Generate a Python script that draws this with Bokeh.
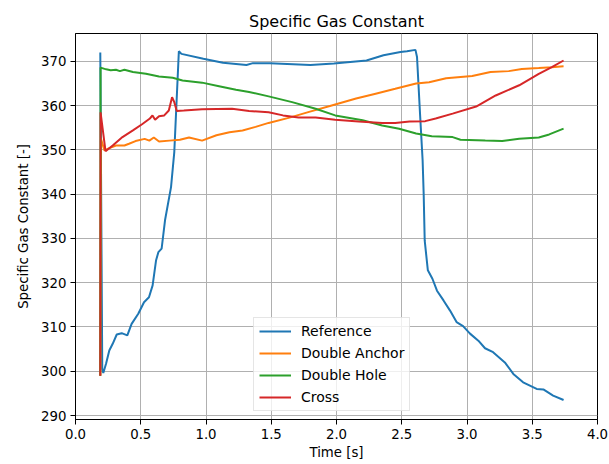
from bokeh.plotting import figure
from bokeh.models import Range1d, FixedTicker, NumeralTickFormatter
from bokeh.embed import file_html
from bokeh.resources import INLINE

# ---- data ----
ref_t = [0.19, 0.205, 0.213, 0.234, 0.259, 0.285, 0.316, 0.354, 0.397, 0.43, 0.481, 0.525,
         0.563, 0.591, 0.617, 0.635, 0.66, 0.686, 0.732, 0.757, 0.792, 0.812, 0.98, 1.13,
         1.31, 1.36, 1.49, 1.80, 1.98, 2.23, 2.36, 2.49, 2.54, 2.605, 2.617, 2.64, 2.66,
         2.668, 2.676, 2.70, 2.735, 2.77, 2.82, 2.87, 2.92, 2.97, 3.023, 3.087, 3.138, 3.2,
         3.29, 3.355, 3.43, 3.534, 3.585, 3.66, 3.74]
ref_r = [372.0, 300.5, 299.6, 301.7, 304.7, 306.2, 308.3, 308.6, 308.1, 310.7, 313.0, 315.6,
         316.7, 319.4, 325.0, 326.9, 327.7, 334.1, 341.6, 349.5, 372.3, 371.7, 370.6, 369.7,
         369.2, 369.6, 369.6, 369.2, 369.5, 370.2, 371.4, 372.1, 372.3, 372.6, 371.0, 358.2, 347.6,
         340.1, 329.5, 322.8, 320.9, 318.2, 316.0, 313.7, 311.1, 310.2, 308.5, 306.9, 305.2, 304.3,
         302.0, 299.4, 297.5, 296.0, 295.9, 294.5, 293.5]

anchor_t = [0.19, 0.195, 0.222, 0.25, 0.31, 0.375, 0.41, 0.46, 0.53, 0.566, 0.60, 0.64, 0.72,
            0.80, 0.87, 0.97, 1.08, 1.18, 1.28, 1.38, 1.48, 1.64, 1.79, 1.97, 2.15, 2.30, 2.45,
            2.61, 2.71, 2.84, 3.04, 3.18, 3.32, 3.42, 3.55, 3.65, 3.74]
anchor_r = [299.0, 352.5, 349.9, 350.3, 351.0, 351.0, 351.4, 352.0, 352.5, 352.1, 352.8, 351.9,
            352.1, 352.3, 352.8, 352.1, 353.3, 354.0, 354.4, 355.2, 356.1, 357.3, 358.6, 360.1,
            361.6, 362.7, 363.8, 365.0, 365.3, 366.2, 366.7, 367.6, 367.8, 368.3, 368.5, 368.7,
            368.9]

hole_t = [0.19, 0.192, 0.235, 0.27, 0.31, 0.34, 0.375, 0.44, 0.54, 0.64, 0.745, 0.82, 0.97,
          1.10, 1.23, 1.33, 1.48, 1.66, 1.84, 1.99, 2.20, 2.35, 2.48, 2.61, 2.73, 2.89, 2.95,
          3.14, 3.27, 3.40, 3.55, 3.63, 3.74]
hole_r = [299.0, 368.6, 368.2, 368.0, 368.1, 367.8, 368.1, 367.6, 367.2, 366.6, 366.3, 365.7,
          365.2, 364.4, 363.6, 363.1, 362.1, 360.8, 359.3, 357.8, 356.7, 355.5, 354.8, 353.7,
          353.1, 352.9, 352.3, 352.1, 352.0, 352.5, 352.8, 353.5, 354.8]

cross_t = [0.19, 0.192, 0.23, 0.285, 0.36, 0.44, 0.51, 0.57, 0.59, 0.61, 0.64, 0.68, 0.715,
           0.74, 0.757, 0.776, 0.83, 0.97, 1.20, 1.33, 1.48, 1.59, 1.71, 1.84, 1.99, 2.17,
           2.35, 2.45, 2.56, 2.68, 2.76, 2.89, 3.07, 3.22, 3.40, 3.55, 3.65, 3.74]
cross_r = [299.0, 358.5, 349.7, 351.0, 352.9, 354.4, 355.8, 357.1, 357.8, 356.8, 357.6, 357.8,
           358.9, 361.9, 360.8, 358.8, 358.9, 359.2, 359.3, 358.8, 358.5, 357.8, 357.3, 357.3,
           356.8, 356.4, 356.1, 356.1, 356.4, 356.5, 357.1, 358.2, 359.8, 362.3, 364.6, 367.2,
           368.7, 370.2]

series_names = ["Reference", "Double Anchor", "Double Hole", "Cross"]
series_colors = ["#1f77b4", "#ff7f0e", "#2ca02c", "#d62728"]
x_ticks = [0.0, 0.5, 1.0, 1.5, 2.0, 2.5, 3.0, 3.5, 4.0]
y_ticks = [290, 300, 310, 320, 330, 340, 350, 360, 370]

FONT = "DejaVu Sans"
TICK_SIZE = "13.3px"

p = figure(width=609, height=464, output_backend="svg", toolbar_location=None,
           x_range=Range1d(0, 4), y_range=Range1d(289.1, 376.3),
           title="Specific Gas Constant",
           x_axis_label="Time [s]", y_axis_label="Specific Gas Constant [-]")
p.min_border_left = 75
p.min_border_right = 12
p.min_border_top = 33
p.min_border_bottom = 45
p.background_fill_color = "white"
p.border_fill_color = "white"
p.outline_line_color = "black"
p.outline_line_alpha = 1
p.outline_line_width = 1

p.title.align = "center"
p.title.text_font = FONT
p.title.text_font_size = "16px"
p.title.text_font_style = "normal"
p.title.text_color = "black"
p.title.standoff = 6

for ax in (p.xaxis[0], p.yaxis[0]):
    ax.axis_label_text_font = FONT
    ax.axis_label_text_font_size = TICK_SIZE
    ax.axis_label_text_font_style = "normal"
    ax.axis_label_text_color = "black"
    ax.major_label_text_font = FONT
    ax.major_label_text_font_size = TICK_SIZE
    ax.major_label_text_color = "black"
    ax.axis_line_color = "black"
    ax.major_tick_line_color = "black"
    ax.major_tick_out = 5
    ax.major_tick_in = 0
    ax.minor_tick_line_color = None
    ax.major_label_standoff = 4

p.xaxis[0].ticker = FixedTicker(ticks=x_ticks)
p.xaxis[0].formatter = NumeralTickFormatter(format="0.0")
p.xaxis[0].axis_label_standoff = 3
p.yaxis[0].ticker = FixedTicker(ticks=y_ticks)
p.yaxis[0].axis_label_standoff = 7

for g in (p.xgrid[0], p.ygrid[0]):
    g.grid_line_color = "#b0b0b0"
    g.grid_line_width = 1
    g.grid_line_alpha = 1
p.xgrid[0].ticker = FixedTicker(ticks=x_ticks)
p.ygrid[0].ticker = FixedTicker(ticks=y_ticks)

all_t = [ref_t, anchor_t, hole_t, cross_t]
all_r = [ref_r, anchor_r, hole_r, cross_r]
for t, r, name, col in zip(all_t, all_r, series_names, series_colors):
    p.line(t, r, line_color=col, line_width=2, legend_label=name)

lg = p.legend[0]
lg.location = (178, 8)
lg.label_text_font = FONT
lg.label_text_font_size = "14px"
lg.label_text_color = "black"
lg.glyph_width = 32
lg.glyph_height = 14
lg.label_height = 14
lg.label_standoff = 10
lg.spacing = 6
lg.padding = 5
lg.margin = 0
lg.border_line_color = "#cccccc"
lg.border_line_width = 1
lg.background_fill_alpha = 0.8

open("out.html", "w").write(file_html(p, INLINE))
